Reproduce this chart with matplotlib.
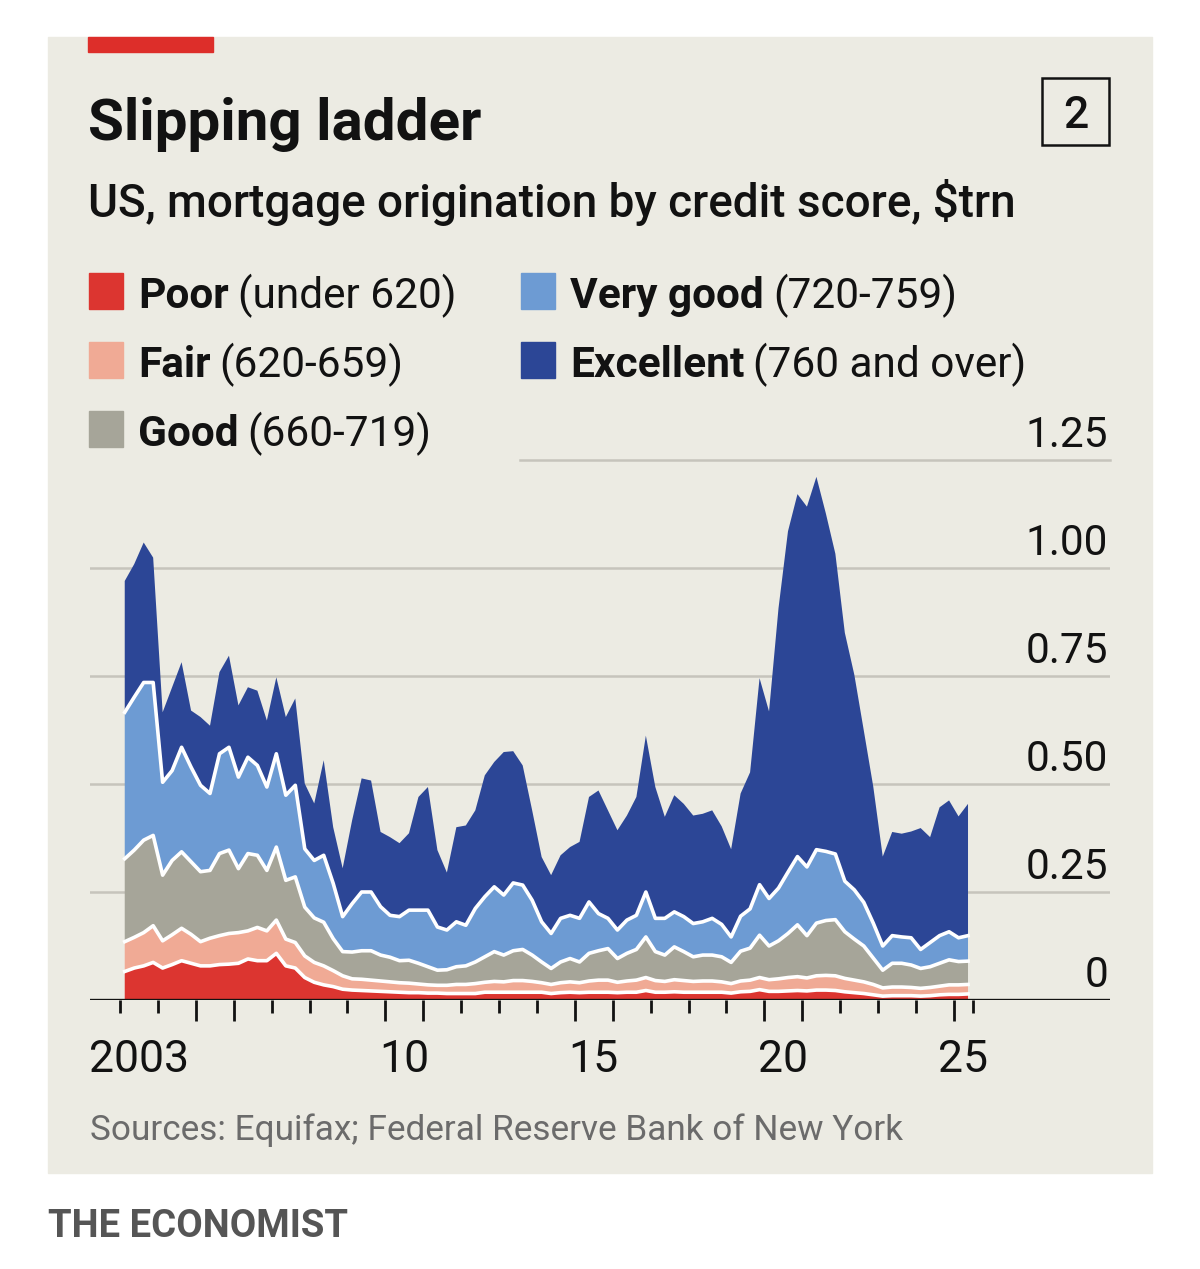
import matplotlib
matplotlib.use("Agg")
import matplotlib.pyplot as plt
import matplotlib.transforms as mtransforms
from matplotlib.patches import Rectangle
from matplotlib.ticker import FixedLocator, NullFormatter
import numpy as np
import pandas as pd

plt.rcParams['font.family'] = ['Roboto', 'DejaVu Sans']

# quarterly mortgage origination, $trn, 2003Q1 - 2025Q2
quarters = pd.period_range('2003Q1', '2025Q2', freq='Q')

poor = [0.066, 0.074, 0.079, 0.087, 0.074, 0.082, 0.091, 0.085, 0.079, 0.079,
        0.082, 0.083, 0.085, 0.095, 0.091, 0.091, 0.108, 0.079, 0.074, 0.052,
        0.041, 0.035, 0.031, 0.025, 0.023, 0.022, 0.021, 0.020, 0.019, 0.018,
        0.017, 0.017, 0.016, 0.016, 0.015, 0.015, 0.015, 0.015, 0.018, 0.018,
        0.018, 0.018, 0.018, 0.018, 0.018, 0.015, 0.017, 0.018, 0.017, 0.018,
        0.018, 0.018, 0.017, 0.018, 0.018, 0.022, 0.018, 0.018, 0.019, 0.018,
        0.018, 0.018, 0.018, 0.018, 0.016, 0.019, 0.020, 0.024, 0.020, 0.020,
        0.021, 0.022, 0.021, 0.023, 0.023, 0.022, 0.019, 0.017, 0.015, 0.012,
        0.009, 0.010, 0.010, 0.010, 0.009, 0.010, 0.012, 0.013, 0.013, 0.014]

fair = [0.069, 0.071, 0.077, 0.085, 0.063, 0.069, 0.075, 0.067, 0.056, 0.064,
        0.067, 0.071, 0.071, 0.065, 0.077, 0.069, 0.077, 0.062, 0.059, 0.050,
        0.046, 0.044, 0.037, 0.031, 0.026, 0.026, 0.025, 0.024, 0.023, 0.022,
        0.022, 0.020, 0.019, 0.018, 0.019, 0.021, 0.021, 0.023, 0.023, 0.025,
        0.024, 0.027, 0.027, 0.025, 0.022, 0.021, 0.023, 0.024, 0.023, 0.026,
        0.028, 0.028, 0.024, 0.026, 0.028, 0.030, 0.027, 0.025, 0.028, 0.027,
        0.025, 0.026, 0.026, 0.024, 0.022, 0.025, 0.026, 0.028, 0.027, 0.029,
        0.031, 0.032, 0.030, 0.033, 0.034, 0.034, 0.031, 0.029, 0.027, 0.024,
        0.019, 0.020, 0.020, 0.019, 0.018, 0.019, 0.020, 0.022, 0.022, 0.022]

good = [0.192, 0.202, 0.214, 0.209, 0.152, 0.172, 0.177, 0.168, 0.162, 0.157,
        0.190, 0.193, 0.148, 0.179, 0.167, 0.140, 0.169, 0.136, 0.152, 0.113,
        0.103, 0.101, 0.074, 0.056, 0.062, 0.066, 0.068, 0.060, 0.057, 0.051,
        0.053, 0.048, 0.042, 0.035, 0.036, 0.041, 0.043, 0.050, 0.059, 0.069,
        0.062, 0.069, 0.072, 0.061, 0.048, 0.037, 0.048, 0.054, 0.048, 0.064,
        0.068, 0.073, 0.055, 0.064, 0.071, 0.094, 0.067, 0.061, 0.076, 0.067,
        0.057, 0.060, 0.060, 0.058, 0.049, 0.069, 0.074, 0.098, 0.078, 0.088,
        0.102, 0.120, 0.098, 0.122, 0.127, 0.130, 0.108, 0.095, 0.083, 0.061,
        0.041, 0.055, 0.055, 0.052, 0.046, 0.048, 0.053, 0.058, 0.054, 0.054]

very_good = [0.339, 0.354, 0.365, 0.354, 0.215, 0.208, 0.242, 0.219, 0.200, 0.178,
             0.231, 0.238, 0.212, 0.223, 0.208, 0.193, 0.216, 0.197, 0.212, 0.135,
             0.133, 0.155, 0.128, 0.081, 0.112, 0.136, 0.136, 0.112, 0.097, 0.102,
             0.116, 0.123, 0.131, 0.100, 0.092, 0.104, 0.094, 0.124, 0.139, 0.150,
             0.139, 0.157, 0.149, 0.127, 0.093, 0.081, 0.101, 0.100, 0.101, 0.119,
             0.086, 0.070, 0.066, 0.077, 0.079, 0.104, 0.077, 0.085, 0.081, 0.081,
             0.077, 0.077, 0.085, 0.075, 0.059, 0.081, 0.091, 0.117, 0.110, 0.122,
             0.142, 0.158, 0.159, 0.170, 0.160, 0.152, 0.117, 0.114, 0.101, 0.081,
             0.056, 0.064, 0.061, 0.063, 0.044, 0.056, 0.064, 0.065, 0.055, 0.059]

excellent = [0.304, 0.308, 0.324, 0.289, 0.162, 0.193, 0.197, 0.131, 0.158, 0.157,
             0.189, 0.212, 0.166, 0.162, 0.173, 0.154, 0.177, 0.181, 0.201, 0.151,
             0.132, 0.220, 0.130, 0.112, 0.193, 0.263, 0.258, 0.173, 0.181, 0.170,
             0.178, 0.262, 0.285, 0.178, 0.133, 0.219, 0.231, 0.227, 0.281, 0.289,
             0.331, 0.305, 0.277, 0.208, 0.150, 0.135, 0.146, 0.158, 0.177, 0.243,
             0.285, 0.250, 0.231, 0.242, 0.274, 0.362, 0.304, 0.235, 0.270, 0.261,
             0.250, 0.250, 0.250, 0.227, 0.203, 0.284, 0.316, 0.478, 0.433, 0.648,
             0.789, 0.839, 0.834, 0.863, 0.782, 0.695, 0.575, 0.498, 0.398, 0.316,
             0.207, 0.240, 0.239, 0.246, 0.281, 0.244, 0.297, 0.304, 0.281, 0.305]

names = ['Poor', 'Fair', 'Good', 'Very good', 'Excellent']
ranges = ['(under 620)', '(620-659)', '(660-719)', '(720-759)', '(760 and over)']
colors = ['#dc3530', '#f0aa95', '#a6a599', '#6d9bd3', '#2c4696']

y_ticks = [0.25, 0.5, 0.75, 1.0, 1.25]
y_labels = ['0.25', '0.50', '0.75', '1.00', '1.25']
x_label_pos = [2003.5, 2010.5, 2015.5, 2020.5, 2025.25]
x_labels = ['2003', '10', '15', '20', '25']
long_ticks = [2005, 2006, 2010, 2011, 2015, 2016, 2020, 2021, 2025]
short_ticks = [2003, 2004, 2007, 2008, 2009, 2012, 2013, 2014,
               2017, 2018, 2019, 2022, 2023, 2024, 2025.5]

BG = '#ecebe3'
GRID = '#c6c4bc'
INK = '#121212'

W, H = 1200, 1269


def fx(px):
    return px / W


def fy(py):
    return 1 - py / H


fig = plt.figure(figsize=(W / 100, H / 100), dpi=100)
fig.patch.set_facecolor('white')

# panel and red tag
fig.add_artist(Rectangle((fx(48), fy(1173)), (1152 - 48) / W, (1173 - 37) / H,
                         transform=fig.transFigure, color=BG, zorder=-2))
fig.add_artist(Rectangle((fx(88), fy(52)), (213 - 88) / W, 15 / H,
                         transform=fig.transFigure, color='#dd2e2a', zorder=-1))

fig.text(fx(88), fy(140), 'Slipping ladder', fontsize=42, fontweight='bold',
         color=INK, va='baseline')
fig.text(fx(88), fy(217), 'US, mortgage origination by credit score, $trn',
         fontsize=33, fontweight='medium', color=INK, va='baseline')

# chart number box
fig.add_artist(Rectangle((fx(1042), fy(145)), 67 / W, 67 / H, transform=fig.transFigure,
                         fill=False, ec=INK, lw=1.8))
fig.text(fx(1075.5), fy(128), '2', fontsize=32, fontweight='medium', color=INK,
         ha='center', va='baseline')

# legend
renderer = fig.canvas.get_renderer()
inv = fig.transFigure.inverted()
slots = [(89, 308), (89, 377), (89, 446), (521, 308), (521, 377)]
for name, rng, col, (sx, base) in zip(names, ranges, colors, slots):
    fig.add_artist(Rectangle((fx(sx), fy(base + 1)), 34 / W, 36 / H,
                             transform=fig.transFigure, color=col))
    t = fig.text(fx(sx + 49), fy(base), name, fontsize=30.5, fontweight='bold',
                 color=INK, va='baseline')
    x1 = inv.transform((t.get_window_extent(renderer).x1, 0))[0]
    fig.text(x1 + 9 / W, fy(base), rng, fontsize=30.5, color=INK, va='baseline')

# chart
ax = fig.add_axes([fx(90), fy(1000), 1020 / W, 540 / H])
ax.patch.set_alpha(0)
x = quarters.year + (quarters.quarter - 0.5) / 4
series = np.array([poor, fair, good, very_good, excellent])
ax.stackplot(x, series, colors=colors, lw=0, zorder=2)
tops = np.cumsum(series, axis=0)
for k in range(4):
    ax.plot(x, tops[k], color='white', lw=2.6, zorder=3)

ax.set_xlim(2003 - 30 / 37.9, 2003 + 990 / 37.9)
ax.set_ylim(0, 1.25)

for v in y_ticks:
    if v == 1.25:
        ax.axhline(v, xmin=(520 - 90) / 1020, xmax=1, color=GRID, lw=1.8, zorder=1, clip_on=False)
    else:
        ax.axhline(v, color=GRID, lw=1.8, zorder=1)
trans = mtransforms.blended_transform_factory(ax.transAxes, ax.transData)
for v, lab in zip([0] + y_ticks, ['0'] + y_labels):
    ax.text(1 - 2 / 1020, v + 13 / 432.8, lab, transform=trans, ha='right',
            va='baseline', fontsize=30.5, color=INK)

ax.axhline(0, color=INK, lw=2.4, zorder=5)
for s in ax.spines.values():
    s.set_visible(False)
ax.set_yticks([])
ax.xaxis.set_major_locator(FixedLocator(long_ticks))
ax.xaxis.set_minor_locator(FixedLocator(short_ticks))
ax.xaxis.set_major_formatter(NullFormatter())
ax.tick_params(axis='x', which='major', length=15, width=2, color=INK, direction='out')
ax.tick_params(axis='x', which='minor', length=9.5, width=2, color=INK, direction='out')
for xp, lab in zip(x_label_pos, x_labels):
    ax.text(xp, -72 / 432.8, lab, ha='center', va='baseline', fontsize=32, color=INK)

fig.text(fx(90), fy(1140), 'Sources: Equifax; Federal Reserve Bank of New York',
         fontsize=25.3, color='#6b6b6b', va='baseline')
fig.text(fx(48), fy(1237), 'THE ECONOMIST', fontsize=27.5, fontweight='bold',
         color='#555555', va='baseline')

fig.savefig('out.png', dpi=100, facecolor='white')
